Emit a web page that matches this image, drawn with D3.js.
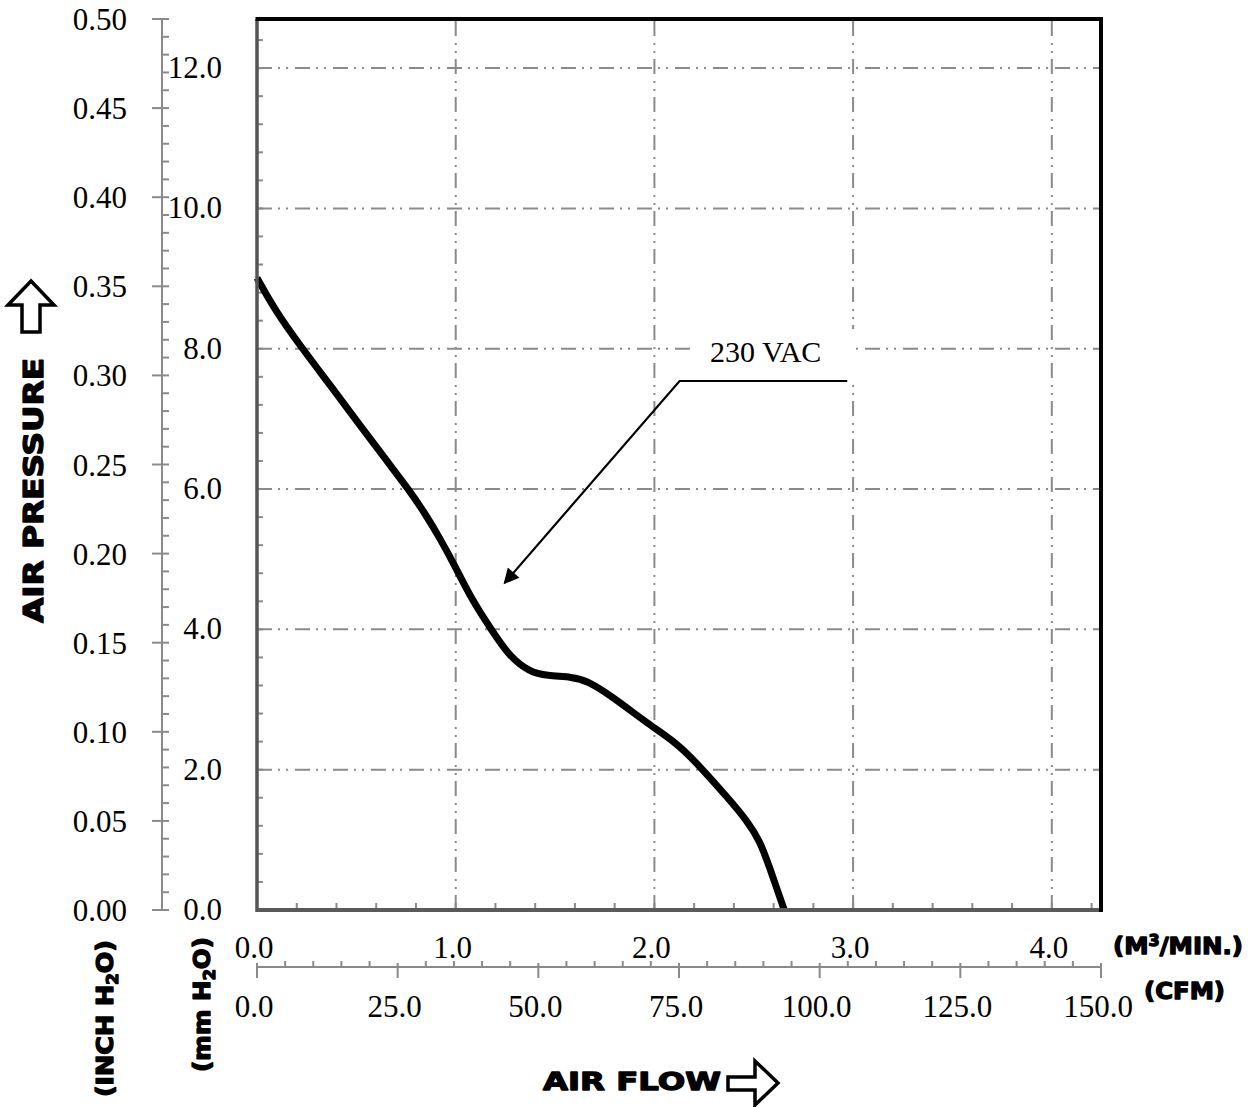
<!DOCTYPE html>
<html><head><meta charset="utf-8">
<script src="https://cdn.jsdelivr.net/npm/d3@7"></script>
<style>body{margin:0;background:#fff}</style>
</head><body><svg id="c" width="1255" height="1107"></svg>
<script>
// ---- data (air flow in CFM, static pressure in mm H2O) ----
const flowCFM = [0, 3.2, 7.6, 13.0, 18.3, 22.7, 27.0, 29.8, 32.5, 35.2, 38.2, 41.7, 44.9, 48.5, 51.5, 56.1, 58.6, 63.2, 69.2, 74.6, 78.1, 84.0, 87.0, 89.3, 91.1, 93.7];
const pressMM = [9.01, 8.55, 8.05, 7.48, 6.91, 6.44, 5.99, 5.66, 5.30, 4.90, 4.42, 3.99, 3.61, 3.39, 3.34, 3.32, 3.27, 3.04, 2.67, 2.38, 2.10, 1.57, 1.28, 1.00, 0.61, 0];
const seriesName = "230 VAC";
const inchTicks = [0.00, 0.05, 0.10, 0.15, 0.20, 0.25, 0.30, 0.35, 0.40, 0.45, 0.50];
const mmTicks = [0, 2, 4, 6, 8, 10, 12];
const m3Ticks = [0, 1, 2, 3, 4];
const cfmTicks = [0, 25, 50, 75, 100, 125, 150];
// annotation anchor in data units (CFM, mm)
const annoTip = [44.0, 4.66], annoElbow = [75.1, 7.54], annoEnd = [104.9, 7.54], annoText = [90.4, 7.81];

const CFM_PER_M3 = 35.3147;
const L = 257, R = 1101, T = 19, B = 910;
const svg = d3.select("#c");
const x = d3.scaleLinear().domain([0, 150]).range([L, R]);
const xm = d3.scaleLinear().domain([0, 150 / CFM_PER_M3]).range([L, R]);
const y = d3.scaleLinear().domain([0, 12.7]).range([B, T]);
const yi = d3.scaleLinear().domain([0, 0.5]).range([B, T]);
const serif = "'Liberation Serif','Times New Roman',serif";
const bold = "'DejaVu Sans',Arial,sans-serif";
const gray = "#8a8a8a";
const dash = "15,6,2,6,2,7";

// grid
const g = svg.append("g");
g.selectAll(".hg").data(mmTicks.filter(d => d > 0)).join("line")
  .attr("x1", L).attr("x2", R).attr("y1", d => y(d)).attr("y2", d => y(d))
  .attr("stroke", gray).attr("stroke-width", 2).attr("stroke-dasharray", dash);
g.selectAll(".vg").data(m3Ticks.filter(d => d > 0)).join("line")
  .attr("y1", B).attr("y2", T).attr("x1", d => xm(d)).attr("x2", d => xm(d))
  .attr("stroke", gray).attr("stroke-width", 2).attr("stroke-dasharray", dash);

// inner minor ticks
g.selectAll(".ly").data(d3.range(0.4, 12.7, 0.4)).join("line")
  .attr("x1", L).attr("x2", L + 6).attr("y1", d => y(d)).attr("y2", d => y(d))
  .attr("stroke", gray).attr("stroke-width", 2);
g.selectAll(".bx").data(d3.range(0.2, 150 / CFM_PER_M3, 0.2)).join("line")
  .attr("y1", B).attr("y2", B - 7).attr("x1", d => xm(d)).attr("x2", d => xm(d))
  .attr("stroke", gray).attr("stroke-width", 2);

// curve
const pts = flowCFM.map((f, i) => [f, pressMM[i]]);
svg.append("path").datum(pts)
  .attr("d", d3.line().x(d => x(d[0])).y(d => y(d[1])).curve(d3.curveBasis))
  .attr("fill", "none").attr("stroke", "#000").attr("stroke-width", 7).attr("stroke-linejoin", "round");

// frame
svg.append("line").attr("x1", L).attr("x2", L).attr("y1", T).attr("y2", B + 2).attr("stroke", "#555").attr("stroke-width", 3.5);
svg.append("line").attr("x1", L).attr("x2", R + 2).attr("y1", B).attr("y2", B).attr("stroke", "#5a5a5a").attr("stroke-width", 4);
svg.append("line").attr("x1", L - 1.5).attr("x2", R + 2).attr("y1", T).attr("y2", T).attr("stroke", "#000").attr("stroke-width", 4);
svg.append("line").attr("x1", R).attr("x2", R).attr("y1", T - 2).attr("y2", B + 2).attr("stroke", "#000").attr("stroke-width", 4);

// outer left axis (inch H2O)
const AX = 162;
svg.append("line").attr("x1", AX).attr("x2", AX).attr("y1", T).attr("y2", B).attr("stroke", gray).attr("stroke-width", 2);
svg.selectAll(".im").data(d3.range(0, 0.5001, 0.01)).join("line")
  .attr("x1", (d, i) => i % 5 === 0 ? AX - 10 : AX).attr("x2", AX + 7)
  .attr("y1", d => yi(d)).attr("y2", d => yi(d)).attr("stroke", gray).attr("stroke-width", 2);
svg.selectAll(".il").data(inchTicks).join("text")
  .attr("x", 127).attr("y", d => yi(d) + 11).attr("text-anchor", "end")
  .attr("font-family", serif).attr("font-size", 31).text(d => d.toFixed(2));
svg.selectAll(".ml").data(mmTicks).join("text")
  .attr("x", 222).attr("y", d => y(d) + 10).attr("text-anchor", "end")
  .attr("font-family", serif).attr("font-size", 31).text(d => d.toFixed(1));

// bottom axes
const BY = 967;
svg.append("line").attr("x1", L).attr("x2", R).attr("y1", BY).attr("y2", BY).attr("stroke", gray).attr("stroke-width", 2);
svg.selectAll(".cm").data(d3.range(0, 150.01, 5)).join("line")
  .attr("x1", d => x(d)).attr("x2", d => x(d))
  .attr("y1", d => d % 25 === 0 ? BY - 4 : BY - 6).attr("y2", d => d % 25 === 0 ? BY + 11 : BY)
  .attr("stroke", gray).attr("stroke-width", 2);
svg.selectAll(".m3l").data(m3Ticks).join("text")
  .attr("x", d => xm(d) - 3).attr("y", 958).attr("text-anchor", "middle")
  .attr("font-family", serif).attr("font-size", 31).text(d => d.toFixed(1));
svg.selectAll(".cfl").data(cfmTicks).join("text")
  .attr("x", d => x(d) - 3).attr("y", 1017).attr("text-anchor", "middle")
  .attr("font-family", serif).attr("font-size", 31).text(d => d.toFixed(1));

// unit labels
function boldText(sel) {
  return sel.attr("font-family", bold).attr("font-weight", "bold").attr("fill", "#000")
    .attr("stroke", "#000").attr("stroke-width", 1.3).attr("stroke-linejoin", "round").attr("lengthAdjust", "spacingAndGlyphs");
}
const m3t = boldText(svg.append("text").attr("x", 1113).attr("y", 954).attr("font-size", 23).attr("textLength", 130));
m3t.append("tspan").text("(M");
m3t.append("tspan").attr("font-size", 15).attr("dy", -8).text("3");
m3t.append("tspan").attr("dy", 8).text("/MIN.)");
boldText(svg.append("text").attr("x", 1144).attr("y", 999).attr("font-size", 23).attr("textLength", 81)).text("(CFM)");

boldText(svg.append("text").attr("x", 543).attr("y", 1090).attr("font-size", 25).attr("textLength", 178)).text("AIR FLOW");
svg.append("path").attr("d", "M728,1077 L755,1077 L755,1061 L778,1083 L755,1105 L755,1090 L728,1090 Z")
  .attr("fill", "#fff").attr("stroke", "#000").attr("stroke-width", 3.5).attr("stroke-linejoin", "miter");

// left titles (rotated)
boldText(svg.append("text").attr("transform", "translate(43,623) rotate(-90)").attr("font-size", 26).attr("textLength", 265)).text("AIR PRESSURE");
svg.append("path").attr("d", "M31,281 L54,305 L40,305 L40,332 L22,332 L22,305 L8,305 Z")
  .attr("fill", "#fff").attr("stroke", "#000").attr("stroke-width", 3.5).attr("stroke-linejoin", "miter");

function rotLabel(tx, ty, len, first) {
  const t = boldText(svg.append("text").attr("transform", `translate(${tx},${ty}) rotate(-90)`).attr("font-size", 23).attr("textLength", len));
  t.append("tspan").text(first);
  t.append("tspan").attr("font-size", 15).attr("dy", 5).text("2");
  t.append("tspan").attr("dy", -5).text("O)");
}
rotLabel(113, 1097, 157, "(INCH H");
rotLabel(210, 1072, 135, "(mm H");

// annotation
svg.append("defs").append("marker").attr("id", "ah").attr("viewBox", "0 0 10 10").attr("refX", 9).attr("refY", 5)
  .attr("markerWidth", 8).attr("markerHeight", 7).attr("markerUnits", "strokeWidth").attr("orient", "auto")
  .append("path").attr("d", "M0,0 L10,5 L0,10 Z").attr("fill", "#000");
const labelBg = svg.append("rect").attr("fill", "#fff");
const label = svg.append("text").attr("x", x(annoText[0])).attr("y", y(annoText[1])).attr("text-anchor", "middle")
  .attr("font-family", serif).attr("font-size", 30).text(seriesName);
const bb = label.node().getBBox();
labelBg.attr("x", bb.x - 20).attr("y", bb.y - 6).attr("width", bb.width + 54).attr("height", y(annoElbow[1]) - 3 - (bb.y - 6));
svg.append("polyline")
  .attr("points", [annoEnd, annoElbow, annoTip].map(p => [x(p[0]), y(p[1])].join(",")).join(" "))
  .attr("fill", "none").attr("stroke", "#000").attr("stroke-width", 2.2).attr("marker-end", "url(#ah)");
</script></body></html>
